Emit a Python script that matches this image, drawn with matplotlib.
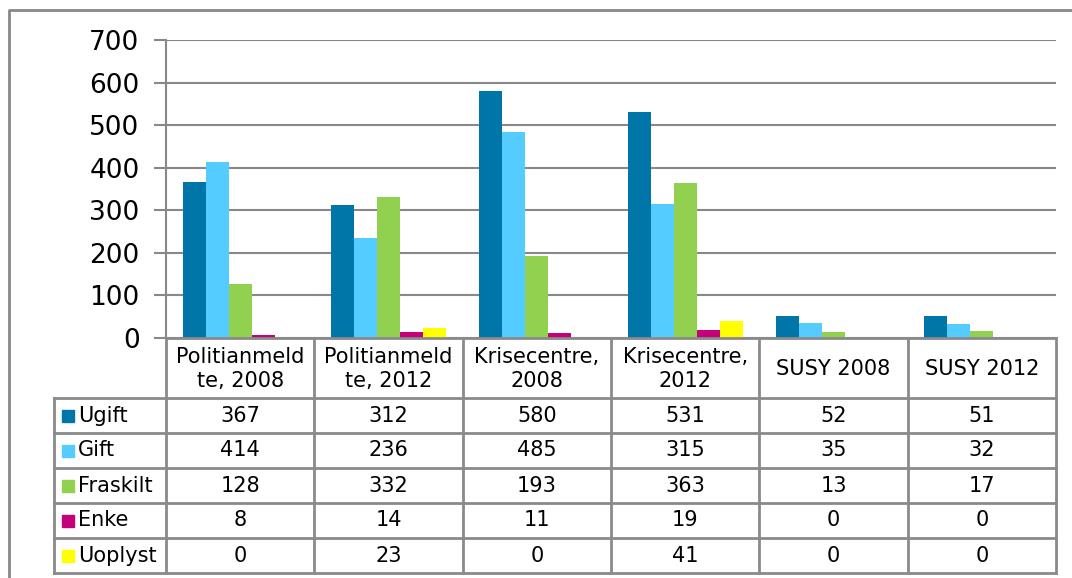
import matplotlib
matplotlib.use("Agg")
import matplotlib.pyplot as plt
from matplotlib.patches import Rectangle
from matplotlib.lines import Line2D
import numpy as np

categories = ["Politianmeld\nte, 2008", "Politianmeld\nte, 2012", "Krisecentre,\n2008",
              "Krisecentre,\n2012", "SUSY 2008", "SUSY 2012"]
series_names = ["Ugift", "Gift", "Fraskilt", "Enke", "Uoplyst"]
ugift = [367, 312, 580, 531, 52, 51]
gift = [414, 236, 485, 315, 35, 32]
fraskilt = [128, 332, 193, 363, 13, 17]
enke = [8, 14, 11, 19, 0, 0]
uoplyst = [0, 23, 0, 41, 0, 0]
series_values = [ugift, gift, fraskilt, enke, uoplyst]
colors = ["#0075A8", "#55CCFF", "#92D050", "#C4007A", "#FFFF00"]
yticks = [0, 100, 200, 300, 400, 500, 600, 700]

W, H = 1072, 578
fig = plt.figure(figsize=(W / 100, H / 100), dpi=100)
plt.rcParams['font.family'] = ['DejaVu Sans']

def fx(px):
    return px / W

def fy(py):
    return 1 - py / H

x0, x1 = 166, 1056
ytop, ybot = 40, 338
ax = fig.add_axes([fx(x0), fy(ybot), fx(x1) - fx(x0), fy(ytop) - fy(ybot)])
ax.set_xlim(0, len(categories))
ax.set_ylim(0, 700)
gridc = "#888888"
for t in yticks:
    ax.axhline(t, color=gridc, lw=1.5, zorder=0)
bw = 0.155
for i, (vals, c) in enumerate(zip(series_values, colors)):
    xs = np.arange(len(categories)) + 0.5 + (i - 2) * bw
    ax.bar(xs, vals, width=bw, color=c, zorder=2)
ax.set_yticks(yticks)
ax.set_yticklabels([str(t) for t in yticks], fontsize=19)
ax.set_xticks([])
for s in ["top", "right", "bottom"]:
    ax.spines[s].set_visible(False)
ax.spines["left"].set_color(gridc)
ax.spines["left"].set_linewidth(1.5)
ax.tick_params(axis="y", length=9, width=1.5, color=gridc, pad=10)

# table drawn in figure pixel coordinates
colw = (x1 - x0) / len(categories)
rows = [398, 433, 468, 503, 538, 573]
legx = 54
lc = "#8a8a8a"
lw = 2

def hline(y, xa, xb):
    fig.add_artist(Line2D([fx(xa), fx(xb)], [fy(y), fy(y)], color=lc, lw=lw))

def vline(x, ya, yb):
    fig.add_artist(Line2D([fx(x), fx(x)], [fy(ya), fy(yb)], color=lc, lw=lw))

hline(ybot, x0, x1)
for r in rows:
    hline(r, legx, x1)
for j in range(len(categories) + 1):
    vline(x0 + j * colw, ybot, rows[-1])
vline(legx, rows[0], rows[-1])

for j, cat in enumerate(categories):
    fig.text(fx(x0 + (j + 0.5) * colw), fy((ybot + rows[0]) / 2 + 1), cat,
             ha="center", va="center", fontsize=15, linespacing=1.3)

for i, (name, vals, c) in enumerate(zip(series_names, series_values, colors)):
    yc = (rows[i] + rows[i + 1]) / 2
    fig.add_artist(Rectangle((fx(62), fy(yc + 6)), fx(12), fy(0) - fy(12),
                             color=c, transform=fig.transFigure))
    fig.text(fx(78), fy(yc), name, ha="left", va="center", fontsize=15)
    for j, v in enumerate(vals):
        fig.text(fx(x0 + (j + 0.5) * colw), fy(yc), str(v), ha="center",
                 va="center", fontsize=15)

# outer chart border (left and top edges visible)
fig.add_artist(Line2D([fx(9), fx(9), fx(W)], [fy(H), fy(10), fy(10)],
                      color="#888888", lw=2))

fig.savefig("out.png", dpi=100)
